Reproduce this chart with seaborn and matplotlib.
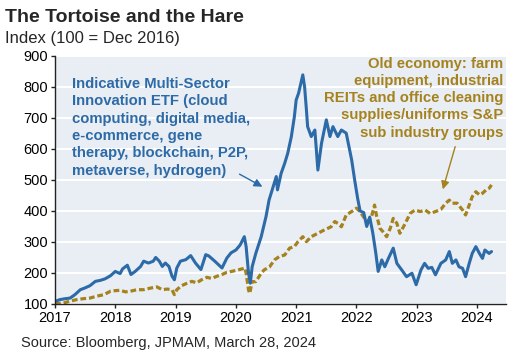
import pandas as pd
import matplotlib
matplotlib.use("Agg")
import matplotlib.pyplot as plt
import seaborn as sns

# Indicative multi-sector innovation ETF (index, 100 = Dec 2016)
hare_year = [2017.00, 2017.08, 2017.17, 2017.25, 2017.33, 2017.42, 2017.50, 2017.58,
             2017.67, 2017.75, 2017.83, 2017.92, 2018.00, 2018.08, 2018.12, 2018.20,
             2018.26, 2018.33, 2018.42, 2018.47, 2018.55, 2018.63, 2018.67, 2018.73,
             2018.78, 2018.83, 2018.89, 2018.94, 2018.98, 2019.02, 2019.08, 2019.17,
             2019.25, 2019.33, 2019.42, 2019.50, 2019.55, 2019.65, 2019.77, 2019.85,
             2019.92, 2020.00, 2020.07, 2020.14, 2020.17, 2020.21, 2020.24, 2020.27,
             2020.33, 2020.42, 2020.50, 2020.55, 2020.61, 2020.67, 2020.69, 2020.75,
             2020.81, 2020.86, 2020.92, 2020.97, 2021.00, 2021.04, 2021.11, 2021.14,
             2021.17, 2021.19, 2021.25, 2021.31, 2021.36, 2021.42, 2021.50, 2021.56,
             2021.61, 2021.69, 2021.75, 2021.83, 2021.92, 2021.97, 2022.02, 2022.06,
             2022.12, 2022.17, 2022.22, 2022.27, 2022.32, 2022.36, 2022.42, 2022.47,
             2022.53, 2022.61, 2022.67, 2022.75, 2022.83, 2022.92, 2022.99, 2023.07,
             2023.13, 2023.19, 2023.25, 2023.31, 2023.40, 2023.48, 2023.54, 2023.59,
             2023.65, 2023.70, 2023.76, 2023.81, 2023.87, 2023.92, 2023.98, 2024.04,
             2024.09, 2024.13, 2024.20, 2024.24]
hare_value = [108, 114, 117, 119, 130, 146, 152, 159,
              173, 176, 181, 191, 205, 198, 213, 225,
              195, 205, 221, 238, 232, 238, 250, 238,
              221, 232, 221, 190, 178, 216, 238, 243,
              256, 232, 211, 259, 255, 238, 216, 248,
              265, 274, 290, 317, 285, 199, 167, 220,
              263, 317, 382, 435, 473, 511, 468, 521,
              554, 586, 640, 704, 758, 780, 839, 800,
              726, 672, 640, 661, 532, 618, 694, 640,
              672, 640, 661, 651, 565, 500, 440, 400,
              395, 350, 380, 330, 265, 205, 242, 220,
              247, 280, 231, 210, 188, 199, 162, 210,
              231, 215, 218, 194, 231, 242, 269, 231,
              242, 220, 215, 188, 231, 263, 285, 263,
              247, 274, 263, 269]

# Old economy basket: farm equipment, industrial REITs, office cleaning supplies/uniforms
tortoise_year = [2017.00, 2017.14, 2017.25, 2017.36, 2017.47, 2017.58, 2017.69, 2017.81,
                 2017.92, 2018.00, 2018.08, 2018.17, 2018.25, 2018.36, 2018.47, 2018.58,
                 2018.69, 2018.78, 2018.86, 2018.94, 2018.98, 2019.02, 2019.10, 2019.18,
                 2019.27, 2019.35, 2019.43, 2019.52, 2019.60, 2019.68, 2019.77, 2019.85,
                 2019.93, 2020.02, 2020.10, 2020.15, 2020.17, 2020.21, 2020.23, 2020.27,
                 2020.33, 2020.42, 2020.47, 2020.56, 2020.64, 2020.72, 2020.81, 2020.89,
                 2020.97, 2021.03, 2021.11, 2021.17, 2021.25, 2021.36, 2021.47, 2021.58,
                 2021.64, 2021.69, 2021.75, 2021.83, 2021.92, 2022.00, 2022.06, 2022.12,
                 2022.19, 2022.25, 2022.30, 2022.33, 2022.36, 2022.39, 2022.44, 2022.50,
                 2022.56, 2022.61, 2022.67, 2022.72, 2022.81, 2022.89, 2022.97, 2023.06,
                 2023.14, 2023.22, 2023.31, 2023.40, 2023.48, 2023.54, 2023.59, 2023.67,
                 2023.76, 2023.81, 2023.87, 2023.92, 2023.98, 2024.04, 2024.09, 2024.15,
                 2024.20, 2024.24]
tortoise_value = [101, 103, 109, 114, 117, 119, 125, 130,
                  141, 143, 144, 139, 141, 146, 146, 151,
                  155, 146, 148, 146, 130, 146, 159, 166,
                  173, 168, 178, 186, 182, 189, 195, 202,
                  205, 209, 213, 216, 199, 145, 134, 172,
                  172, 199, 210, 220, 242, 253, 258, 280,
                  285, 301, 317, 301, 317, 328, 339, 349,
                  366, 360, 349, 387, 398, 409, 398, 380,
                  366, 382, 419, 387, 366, 344, 333, 317,
                  344, 376, 360, 328, 360, 392, 403, 398,
                  403, 392, 398, 405, 425, 435, 425, 425,
                  403, 387, 419, 446, 462, 452, 457, 468,
                  473, 484]

BLUE = "#2D6AA8"
GOLD = "#A5821E"

hare = pd.DataFrame({"year": hare_year, "value": hare_value})
tortoise = pd.DataFrame({"year": tortoise_year, "value": tortoise_value})

sns.set_theme(style="whitegrid", rc={"axes.facecolor": "#E8EEF3", "grid.color": "white"})
plt.rcParams["font.family"] = ["Liberation Sans", "DejaVu Sans"]

fig = plt.figure(figsize=(5.16, 3.61), dpi=100)
ax = fig.add_axes([0.1066, 0.158, 0.874, 0.687])

sns.lineplot(data=tortoise, x="year", y="value", color=GOLD, lw=2.3,
             linestyle=(0, (1.8, 0.9)), ax=ax)
sns.lineplot(data=hare, x="year", y="value", color=BLUE, lw=2.2, ax=ax)

ax.set_xlim(2017.0, 2024.48)
ax.set_ylim(100, 900)
ax.set_xticks(range(2017, 2025))
ax.set_yticks(range(100, 1000, 100))
ax.set_xlabel("")
ax.set_ylabel("")
ax.grid(axis="x", visible=False)
ax.grid(axis="y", color="white", lw=1.5)
for side in ["top", "right"]:
    ax.spines[side].set_visible(False)
for side in ["left", "bottom"]:
    ax.spines[side].set_color("#222222")
    ax.spines[side].set_linewidth(1.0)
ax.tick_params(axis="both", direction="out", length=3, width=1, color="#222222",
               labelsize=10.5, labelcolor="black", pad=2, left=True, bottom=True)

ax.text(2017.28, 832, "Indicative Multi-Sector\nInnovation ETF (cloud\ncomputing, digital media,\n"
        "e-commerce, gene\ntherapy, blockchain, P2P,\nmetaverse, hydrogen)",
        color=BLUE, fontsize=10.7, fontweight="bold", ha="left", va="top", linespacing=1.3)
ax.annotate("", xy=(2020.48, 474), xytext=(2020.02, 523),
            arrowprops=dict(arrowstyle="-|>", color=BLUE, lw=1, mutation_scale=12))

ax.text(2024.43, 898, "Old economy: farm\nequipment, industrial\nREITs and office cleaning\n"
        "supplies/uniforms S&P\nsub industry groups",
        color=GOLD, fontsize=10.7, fontweight="bold", ha="right", va="top",
        multialignment="right", linespacing=1.3)
ax.annotate("", xy=(2023.42, 461), xytext=(2023.65, 616),
            arrowprops=dict(arrowstyle="-|>", color=GOLD, lw=1, mutation_scale=12))

fig.text(5 / 516, 1 - 17 / 361, "The Tortoise and the Hare", fontsize=14,
         fontweight="bold", va="center", ha="left")
fig.text(5 / 516, 1 - 38 / 361, "Index (100 = Dec 2016)", fontsize=12,
         va="center", ha="left")
fig.text(21 / 516, 1 - 343 / 361, "Source: Bloomberg, JPMAM, March 28, 2024",
         fontsize=10.5, va="center", ha="left")

fig.savefig("out.png", dpi=100)
